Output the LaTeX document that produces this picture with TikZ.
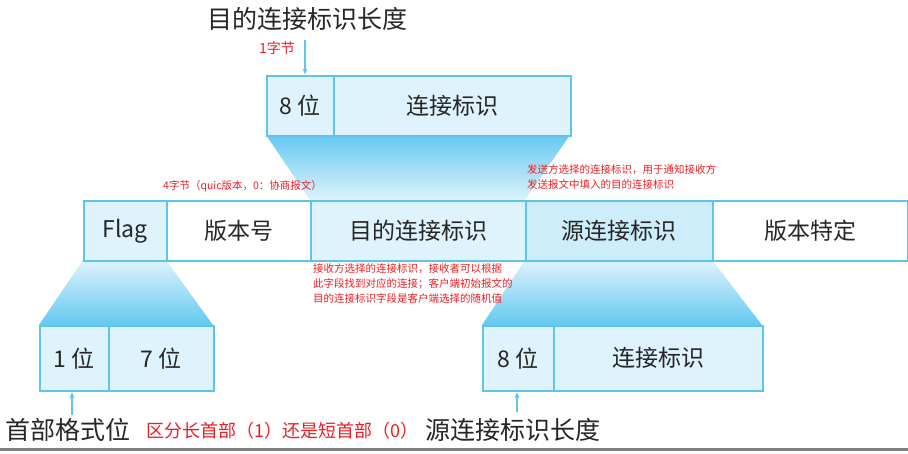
\documentclass[tikz,border=0pt]{standalone}
\usepackage{fontspec}
\setmainfont{Liberation Serif}
\newfontfamily\cjk{Noto Sans CJK SC}
\definecolor{bd}{RGB}{95,195,235}
\definecolor{lb}{RGB}{222,243,252}
\definecolor{lb2}{RGB}{205,237,250}
\definecolor{sh}{RGB}{100,200,240}
\definecolor{rd}{RGB}{235,30,35}
\tikzset{cell/.style={draw=bd,line width=1.5pt,fill=lb},
 wcell/.style={draw=bd,line width=1.5pt,fill=white},
 big/.style={font=\fontsize{23}{25}\selectfont\cjk,text=black!85},
 note/.style={font=\fontsize{10.5}{15}\selectfont\cjk,text=rd,align=left,anchor=north west,inner sep=0},
 arr/.style={-{Latex[length=6pt,width=5pt]},draw=bd,line width=1.5pt}}
\usetikzlibrary{arrows.meta}
\begin{document}
\begin{tikzpicture}[x=1pt,y=-1pt]
\useasboundingbox (0,0) rectangle (908,453);
% trapezoids
\shade[top color=sh,bottom color=lb] (266,135) -- (570,135) -- (525,200) -- (310,200) -- cycle;
\shade[top color=lb,bottom color=sh] (83,260) -- (166,260) -- (213,325) -- (39,325) -- cycle;
\shade[top color=lb,bottom color=sh] (525,260) -- (712,260) -- (762,325) -- (482,325) -- cycle;
% top box
\node[cell,minimum width=67pt,minimum height=60pt,anchor=north west,big] (t1) at (266,75) {8 位};
\node[cell,minimum width=237pt,minimum height=60pt,anchor=north west,big] (t2) at (333,75) {连接标识};
% main row
\node[cell,minimum width=83pt,minimum height=60pt,anchor=north west,big] (m1) at (83,200) {Flag};
\node[wcell,minimum width=144pt,minimum height=60pt,anchor=north west,big] (m2) at (166,200) {版本号};
\node[cell,minimum width=215pt,minimum height=60pt,anchor=north west,big] (m3) at (310,200) {目的连接标识};
\node[cell,fill=lb2,minimum width=187pt,minimum height=60pt,anchor=north west,big] (m4) at (525,200) {源连接标识};
\node[wcell,minimum width=195pt,minimum height=60pt,anchor=north west,big] (m5) at (712,200) {版本特定};
% bottom boxes
\node[cell,minimum width=69pt,minimum height=65pt,anchor=north west,big] (b1) at (39,325) {1 位};
\node[cell,minimum width=105pt,minimum height=65pt,anchor=north west,big] (b2) at (108,325) {7 位};
\node[cell,minimum width=71pt,minimum height=65pt,anchor=north west,big] (b3) at (482,325) {8 位};
\node[cell,minimum width=209pt,minimum height=65pt,anchor=north west,big] (b4) at (553,325) {连接标识};
% labels
\node[big,font=\fontsize{25}{27}\selectfont\cjk] (l1) at (307,19) {目的连接标识长度};
\node[font=\fontsize{14}{16}\selectfont\cjk,text=rd] (l2) at (277,48) {1字节};
\node[big,font=\fontsize{25}{27}\selectfont\cjk,anchor=west,inner sep=0] (l3) at (5,430) {首部格式位};
\node[font=\fontsize{18}{20}\selectfont\cjk,text=rd,anchor=west,inner sep=0] (l4) at (146,431) {区分长首部（1）还是短首部（0）};
\node[big,font=\fontsize{25}{27}\selectfont\cjk,anchor=west,inner sep=0] (l5) at (425,430) {源连接标识长度};
\node[note] (n1) at (163,180) {4字节（quic版本，0：协商报文）};
\node[note] (n2) at (527,164) {发送方选择的连接标识，用于通知接收方\\发送报文中填入的目的连接标识};
\node[note] (n3) at (313,263) {接收方选择的连接标识，接收者可以根据\\此字段找到对应的连接；客户端初始报文的\\目的连接标识字段是客户端选择的随机值};
% arrows
\coordinate (a1) at (305,40);
\draw[arr] (a1) -- (t1.north west -| a1);
\coordinate (a2) at (72,415);
\draw[arr] (a2) -- (b1.south west -| a2);
\coordinate (a3) at (517,412);
\draw[arr] (a3) -- (b3.south west -| a3);
\coordinate (g1) at (0,449); \coordinate (g2) at (908,449);
\draw[gray,line width=3pt] (g1) -- (g2);
\end{tikzpicture}
\end{document}
